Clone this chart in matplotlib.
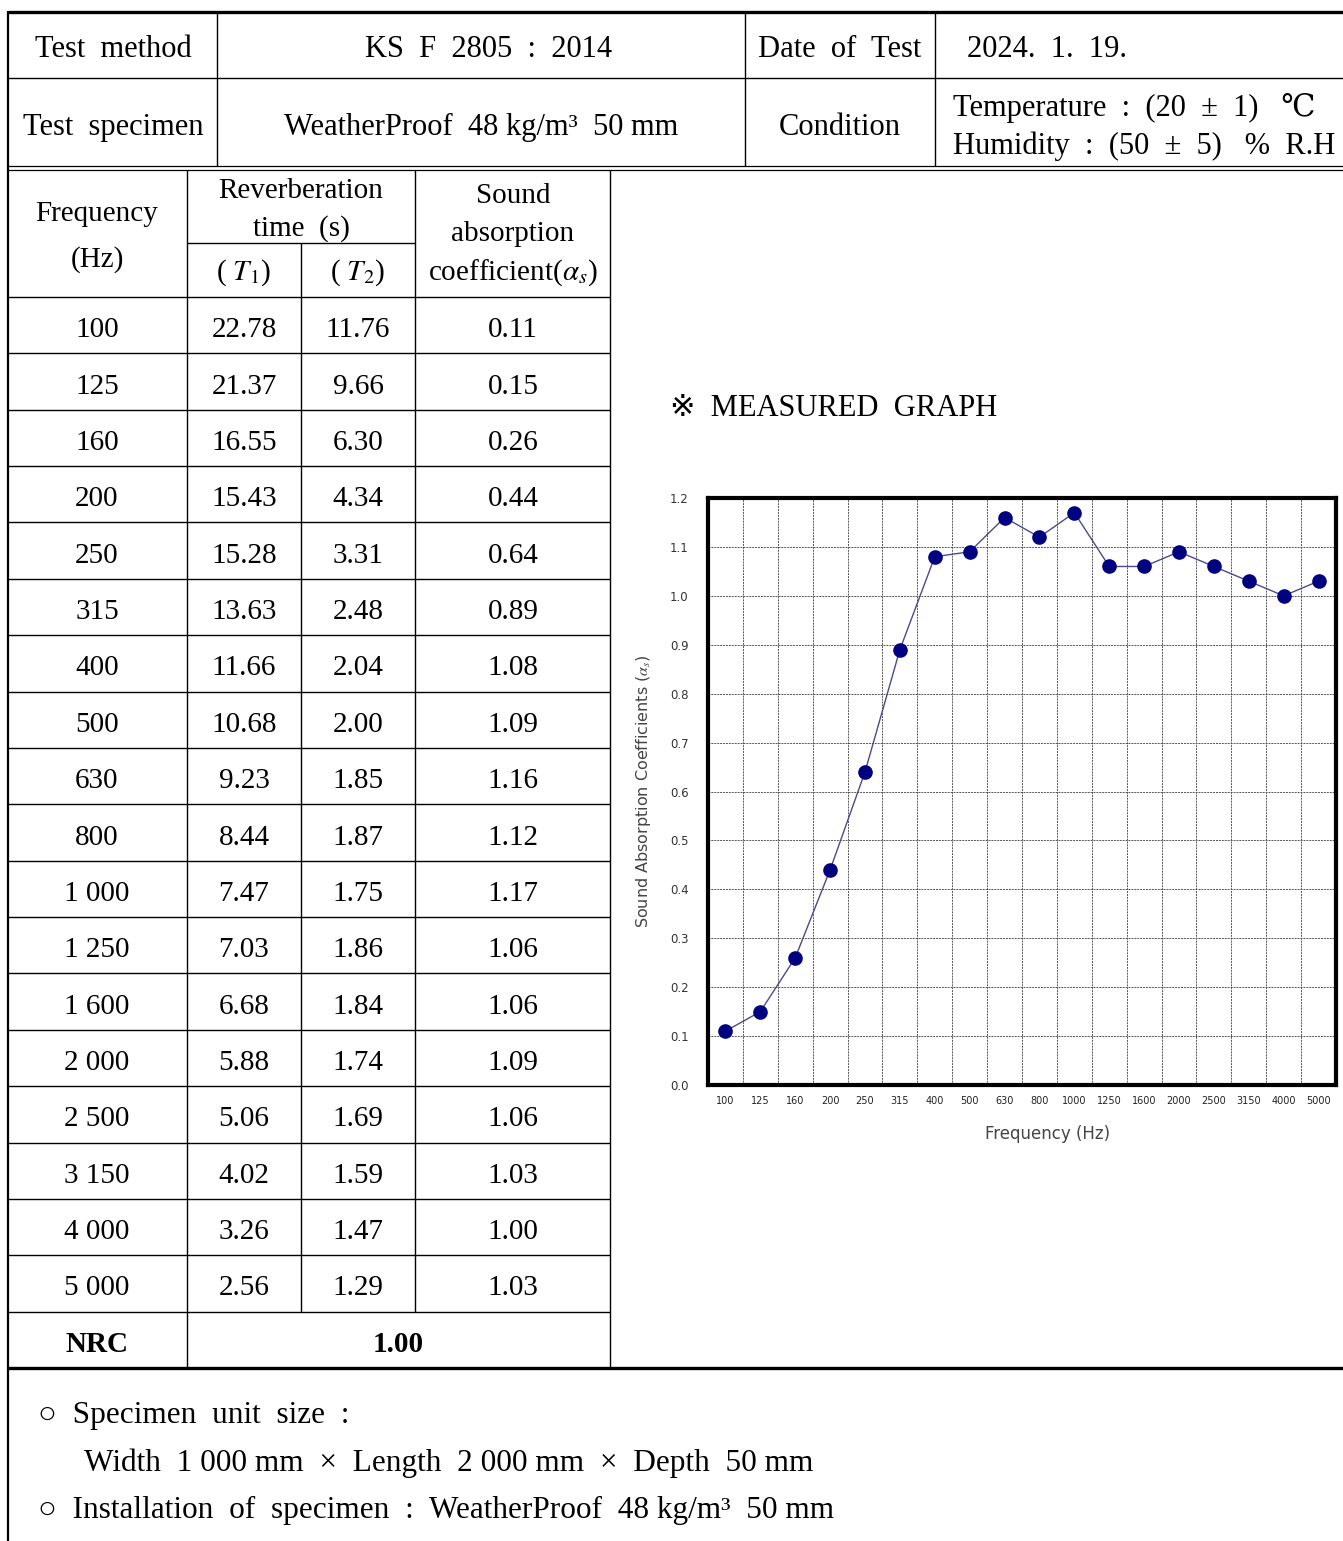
import matplotlib
matplotlib.use("Agg")
import matplotlib.pyplot as plt

# table / chart data
freqs = [100, 125, 160, 200, 250, 315, 400, 500, 630, 800,
         1000, 1250, 1600, 2000, 2500, 3150, 4000, 5000]
t1 = [22.78, 21.37, 16.55, 15.43, 15.28, 13.63, 11.66, 10.68, 9.23,
      8.44, 7.47, 7.03, 6.68, 5.88, 5.06, 4.02, 3.26, 2.56]
t2 = [11.76, 9.66, 6.30, 4.34, 3.31, 2.48, 2.04, 2.00, 1.85,
      1.87, 1.75, 1.86, 1.84, 1.74, 1.69, 1.59, 1.47, 1.29]
alpha = [0.11, 0.15, 0.26, 0.44, 0.64, 0.89, 1.08, 1.09, 1.16,
         1.12, 1.17, 1.06, 1.06, 1.09, 1.06, 1.03, 1.00, 1.03]
nrc = 1.00
y_ticks = [0.0, 0.1, 0.2, 0.3, 0.4, 0.5, 0.6, 0.7, 0.8, 0.9, 1.0, 1.1, 1.2]

plt.rcParams['mathtext.fontset'] = 'stix'
SERIF = ['Liberation Serif', 'DejaVu Serif', 'DejaVu Sans', 'Noto Sans CJK KR']
FS = 21

W, H = 1343, 1541
fig = plt.figure(figsize=(W / 100, H / 100), dpi=100)
ax = fig.add_axes([0, 0, 1, 1])
ax.set_xlim(0, W)
ax.set_ylim(H, 0)
ax.axis('off')


def hline(y, x0, x1, lw=1.0):
    ax.plot([x0, x1], [y, y], color='black', lw=lw, solid_capstyle='butt')


def vline(x, y0, y1, lw=1.0):
    ax.plot([x, x], [y0, y1], color='black', lw=lw, solid_capstyle='butt')


def txt(x, y, s, ha='center', size=FS, weight='normal'):
    # small shift down so glyphs sit where the reference has them
    ax.text(x, y + 5, s, ha=ha, va='center', fontsize=size, family=SERIF,
            weight=weight, color='black')


# outer frame and header block
hline(12, 8, W, lw=2.4)
vline(8, 11, H, lw=1.6)
hline(78, 8, W)
hline(166, 8, W, lw=0.9)
hline(170, 8, W, lw=0.9)
for x in [217, 745, 935]:
    vline(x, 12, 166)

txt(113, 44, "Test  method", size=22)
txt(489, 44, "KS  F  2805  :  2014", size=22)
txt(840, 44, "Date  of  Test", size=22)
txt(967, 44, "2024.  1.  19.", ha='left', size=22)
txt(113, 122, "Test  specimen", size=22)
txt(481, 122, "WeatherProof  48 kg/m³  50 mm", size=22)
txt(840, 122, "Condition", size=22)
txt(953, 103, "Temperature  :  (20  ±  1)   ℃", ha='left', size=22)
txt(953, 141, "Humidity  :  (50  ±  5)   %  R.H", ha='left', size=22)

# lower table
top_rows = 297
row_h = (1368 - 297) / (len(freqs) + 1)
vline(187, 170, 1368)
vline(301, 243, 1368 - row_h)
vline(415, 170, 1368 - row_h)
vline(610, 170, 1368)
hline(243, 187, 415)
for i in range(len(freqs) + 1):
    hline(top_rows + i * row_h, 8, 610)
hline(1368, 8, W, lw=2.4)

txt(97, 209, "Frequency")
txt(97, 255, "(Hz)")
txt(301, 186, "Reverberation")
txt(301, 224, "time  (s)")
txt(244, 268, "( $T_1$)")
txt(358, 268, "( $T_2$)")
txt(513, 191, "Sound")
txt(513, 229, "absorption")
txt(513, 268, r"coefficient($\alpha_s$)")

for i, f in enumerate(freqs):
    yc = top_rows + row_h * (i + 0.5)
    lab = f"{f:,}".replace(",", " ")
    txt(97, yc, lab)
    txt(244, yc, f"{t1[i]:.2f}")
    txt(358, yc, f"{t2[i]:.2f}")
    txt(513, yc, f"{alpha[i]:.2f}")

yc = top_rows + row_h * (len(freqs) + 0.5)
txt(97, yc, "NRC", weight='bold')
txt(398, yc, f"{nrc:.2f}", weight='bold')

txt(670, 403, "※  MEASURED  GRAPH", ha='left', size=22)

# footer notes
txt(38, 1411, "○  Specimen  unit  size  :", ha='left', size=22.5)
txt(84, 1458, "Width  1 000 mm  ×  Length  2 000 mm  ×  Depth  50 mm", ha='left', size=22.5)
txt(38, 1505, "○  Installation  of  specimen  :  WeatherProof  48 kg/m³  50 mm",
    ha='left', size=22.5)

# measured graph
cax = fig.add_axes([708 / W, 1 - 1085 / H, 628 / W, 587 / H])
xs = list(range(len(freqs)))
cax.plot(xs, alpha, color='#4a4a8c', lw=1.0, marker='o', markersize=9.5,
         markerfacecolor='#000080', markeredgecolor='#000080', zorder=3)
cax.set_xlim(-0.5, len(freqs) - 0.5)
cax.set_ylim(0, 1.2)
cax.set_xticks(xs)
cax.set_xticklabels([str(f) for f in freqs], fontsize=7, color='#222222')
cax.set_yticks(y_ticks)
cax.set_yticklabels([f"{v:.1f}" for v in y_ticks], fontsize=8.5, color='#333333')
cax.tick_params(length=0, pad=8)
cax.tick_params(axis='y', pad=14)
for v in y_ticks[1:-1]:
    cax.axhline(v, color='#555555', lw=0.7, ls=(0, (2, 1)), zorder=1)
for i in range(len(freqs) - 1):
    cax.axvline(i + 0.5, color='#555555', lw=0.7, ls=(0, (2, 1)), zorder=1)
for sp in cax.spines.values():
    sp.set_linewidth(3.0)
cax.set_xlabel("Frequency (Hz)", fontsize=12, color='#444444', labelpad=14)
cax.xaxis.set_label_coords(0.54, -0.068)
cax.set_ylabel(r"Sound Absorption Coefficients ($\alpha_s$)", fontsize=11.5,
               color='#444444', labelpad=12)

fig.savefig("out.png", dpi=100)
